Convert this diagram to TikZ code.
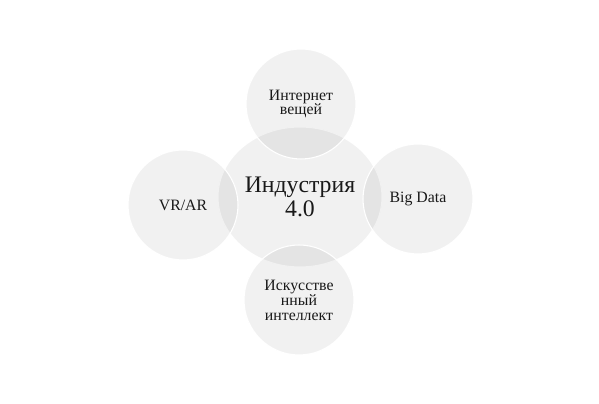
\documentclass[tikz,border=0pt]{standalone}
\usepackage{fontspec}
\setmainfont{Liberation Serif}
\usetikzlibrary{shapes.geometric}

\begin{document}
\begin{tikzpicture}[
    x=0.02cm, y=-0.02cm,
    scheibe/.style={
      circle,
      fill=black,
      fill opacity=.055,
      text opacity=1,
      draw=white,
      line width=.6pt,
      inner sep=0pt,
      minimum size=2.2cm,
      align=center,
      text=black!90,
      font=\fontsize{9}{8.5}\selectfont},
    mittelscheibe/.style={
      scheibe,
      ellipse,
      minimum width=3.28cm,
      minimum height=2.8cm,
      font=\fontsize{13.5}{13.6}\selectfont}
    ]

  \useasboundingbox (0,0) rectangle (599,404);

  \node at (300,197) (industrie) [mittelscheibe] {Индустрия\\4.0};

  \node at (301,104) (internet) [scheibe] {Интернет\\вещей};

  \node at (183,205) (vrar) [scheibe] {VR/AR};

  \node at (418,199) (bigdata) [scheibe] {Big Data};

  \node at (299,300) (intellekt) [scheibe] {Искусстве\\нный\\интеллект};

\end{tikzpicture}
\end{document}
